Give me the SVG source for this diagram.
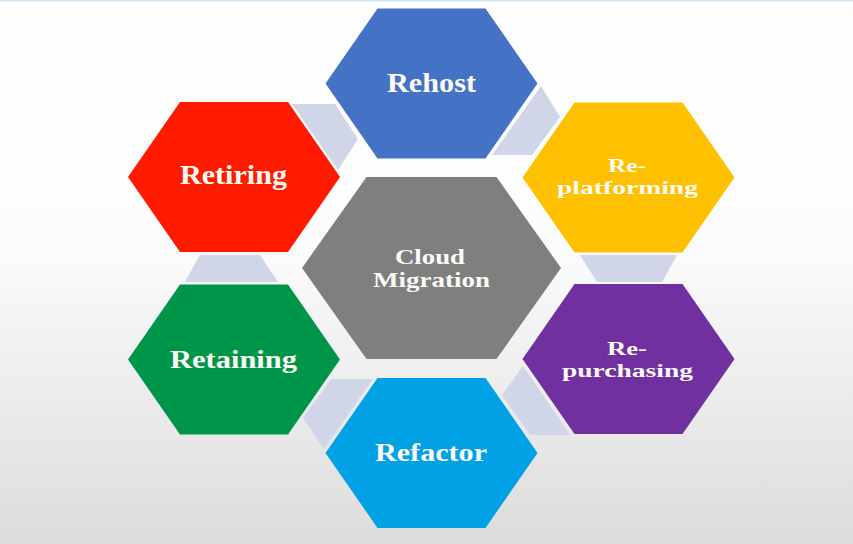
<svg xmlns="http://www.w3.org/2000/svg" xmlns:xlink="http://www.w3.org/1999/xlink" width="853" height="544" viewBox="0 0 853 544">
<style>
.lbl{font-family:"Liberation Serif","Times New Roman",serif;font-weight:bold;fill:#fbfaf4;text-anchor:middle}
.conn{fill:#d0d5e8}
</style>
<defs>
<linearGradient id="bg" x1="0" y1="0" x2="0" y2="1">
<stop offset="0" stop-color="#ffffff"/>
<stop offset="0.45" stop-color="#fcfcfc"/>
<stop offset="1" stop-color="#dcdcdc"/>
</linearGradient>
<polygon id="hex" points="-106,0 -54,-75 54,-75 106,0 54,75 -54,75"/>
<polygon id="hexc" points="-129.5,0 -65,-91 65,-91 129.5,0 65,91 -65,91"/>
</defs>
<rect width="853" height="544" fill="url(#bg)"/>
<rect width="853" height="1.5" fill="#cfe5f6"/>
<g id="connectors">
<polygon class="conn" points="292,104 335,104 358,139 338,170"/>
<polygon class="conn" points="541,86 560,117 532,155 492,155"/>
<polygon class="conn" points="580,255 677,255 662,282 597,282"/>
<polygon class="conn" points="523,366 570,435 530,435 502,395"/>
<polygon class="conn" points="331,379 373,379 324,449 303,418"/>
<polygon class="conn" points="200,255 260,255 278,282 185,282"/>
</g>
<g id="rehost">
<use xlink:href="#hex" x="431.5" y="83.5" fill="#4472c4"/>
<text class="lbl" x="431.5" y="92" font-size="28" textLength="89" lengthAdjust="spacingAndGlyphs">Rehost</text>
</g>
<g id="retiring">
<use xlink:href="#hex" x="234" y="177" fill="#ff1a00"/>
<text class="lbl" x="233.5" y="184" font-size="26.5" textLength="107" lengthAdjust="spacingAndGlyphs">Retiring</text>
</g>
<g id="replatforming">
<use xlink:href="#hex" x="628.5" y="177.5" fill="#ffc000"/>
<text class="lbl" x="627" y="172" font-size="19" textLength="38" lengthAdjust="spacingAndGlyphs">Re-</text>
<text class="lbl" x="627.5" y="193.5" font-size="19" textLength="141" lengthAdjust="spacingAndGlyphs">platforming</text>
</g>
<g id="cloud-migration">
<use xlink:href="#hexc" x="431.5" y="268" fill="#7f7f7f"/>
<text class="lbl" x="430" y="263.5" font-size="22" textLength="70" lengthAdjust="spacingAndGlyphs">Cloud</text>
<text class="lbl" x="431.5" y="287" font-size="22" textLength="117" lengthAdjust="spacingAndGlyphs">Migration</text>
</g>
<g id="retaining">
<use xlink:href="#hex" x="234" y="359.5" fill="#00964a"/>
<text class="lbl" x="233.5" y="368" font-size="26" textLength="127" lengthAdjust="spacingAndGlyphs">Retaining</text>
</g>
<g id="repurchasing">
<use xlink:href="#hex" x="628.5" y="359" fill="#7030a0"/>
<text class="lbl" x="627" y="354.5" font-size="19" textLength="40" lengthAdjust="spacingAndGlyphs">Re-</text>
<text class="lbl" x="627.5" y="376.5" font-size="19" textLength="131" lengthAdjust="spacingAndGlyphs">purchasing</text>
</g>
<g id="refactor">
<use xlink:href="#hex" x="431.5" y="453" fill="#00a2e5"/>
<text class="lbl" x="431" y="461" font-size="26" textLength="112" lengthAdjust="spacingAndGlyphs">Refactor</text>
</g>
</svg>
